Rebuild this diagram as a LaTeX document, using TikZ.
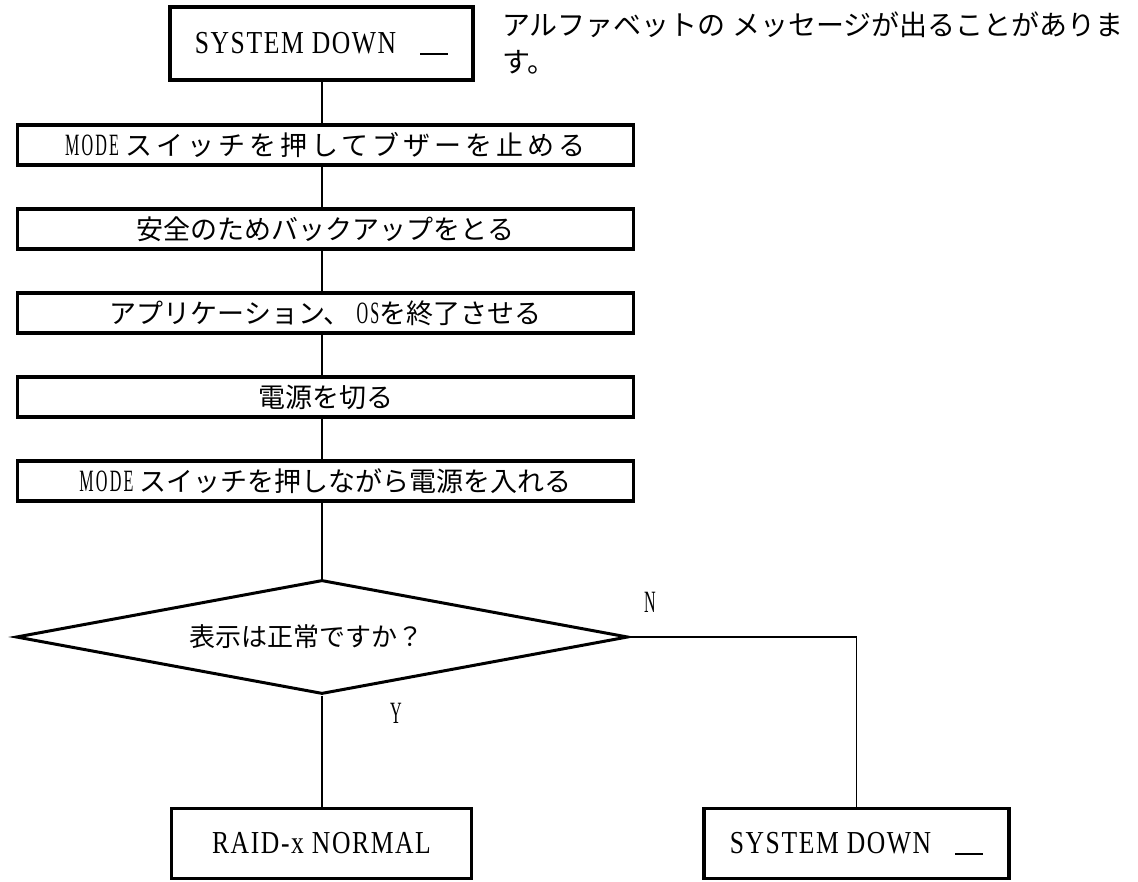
\documentclass[tikz,border=0pt]{standalone}
\usepackage{fontspec}
\newfontfamily\jpfont{Noto Sans CJK JP}
\newfontfamily\jpwide[LetterSpace=15]{Noto Sans CJK JP}
\newfontfamily\sysfont[FakeStretch=0.8, LetterSpace=5]{Liberation Serif}
\newfontfamily\modefont[FakeStretch=0.52, LetterSpace=7]{Liberation Serif}
\usetikzlibrary{shapes.geometric}
\newcommand{\sysdown}{{\fontsize{32}{36}\sysfont SYSTEM DOWN}\hspace{24pt}\rule[-2pt]{28pt}{2pt}}
\newcommand{\latn}[1]{{\fontsize{31}{36}\modefont #1}}

\begin{document}
\begin{tikzpicture}[x=1pt, y=-1pt,
  every node/.style={font=\jpfont\fontsize{27}{37}\selectfont},
  stepbox/.style={draw, line width=3.5pt, minimum width=616pt, minimum height=40pt, inner sep=0pt},
  endbox/.style={draw, line width=3.5pt, minimum height=70pt, inner sep=0pt},
  query/.style={draw, diamond, aspect=5.37, line width=3pt, minimum width=612pt, minimum height=114pt, inner sep=0pt, font=\jpfont\fontsize{26}{30}\selectfont},
  wire/.style={line width=1.3pt}]
\useasboundingbox (0,0) rectangle (1138,882);
% alarm and note
\node[stepbox, minimum width=303pt, minimum height=73pt] (alarm) at (321.5,43.5) {\sysdown};
\node[anchor=north west, align=left, inner sep=0pt, font=\jpfont\fontsize{28}{37}\selectfont] (hint) at (502,12) {アルファベットの メッセージが出ることがありま\\す。};
% steps
\node[stepbox] (buzzer) at (325.5,145) {\latn{MODE} {\jpwide スイッチを押してブザーを止める}};
\node[stepbox] (backup) at (325.5,229) {安全のためバックアップをとる};
\node[stepbox] (quit) at (325.5,313) {アプリケーション、 \latn{OS}を終了させる};
\node[stepbox] (poweroff) at (325.5,397) {電源を切る};
\node[stepbox] (poweron) at (325.5,481) {\latn{MODE} スイッチを押しながら電源を入れる};
% decision
\node[query] (check) at (322,637) {表示は正常ですか？\hspace*{32pt}};
\node (no) at (650,602) {\latn{N}};
\node (yes) at (396,713) {\latn{Y}};
% results
\node[endbox, minimum width=300pt] (normal) at (321.5,843.5) {{\fontsize{32}{36}\sysfont RAID-x NORMAL}};
\node[endbox, minimum width=305pt] (down) at (856.5,843.5) {\sysdown};
% connectors
\draw[wire] (check.north |- alarm.south) -- (check.north |- buzzer.north);
\draw[wire] (check.north |- buzzer.south) -- (check.north |- backup.north);
\draw[wire] (check.north |- backup.south) -- (check.north |- quit.north);
\draw[wire] (check.north |- quit.south) -- (check.north |- poweroff.north);
\draw[wire] (check.north |- poweroff.south) -- (check.north |- poweron.north);
\draw[wire] (check.north |- poweron.south) -- (check.north);
\draw[wire] (check.south) -- (check.south |- normal.north);
\draw[wire] (check.east) -| (down.north);
\end{tikzpicture}
\end{document}
